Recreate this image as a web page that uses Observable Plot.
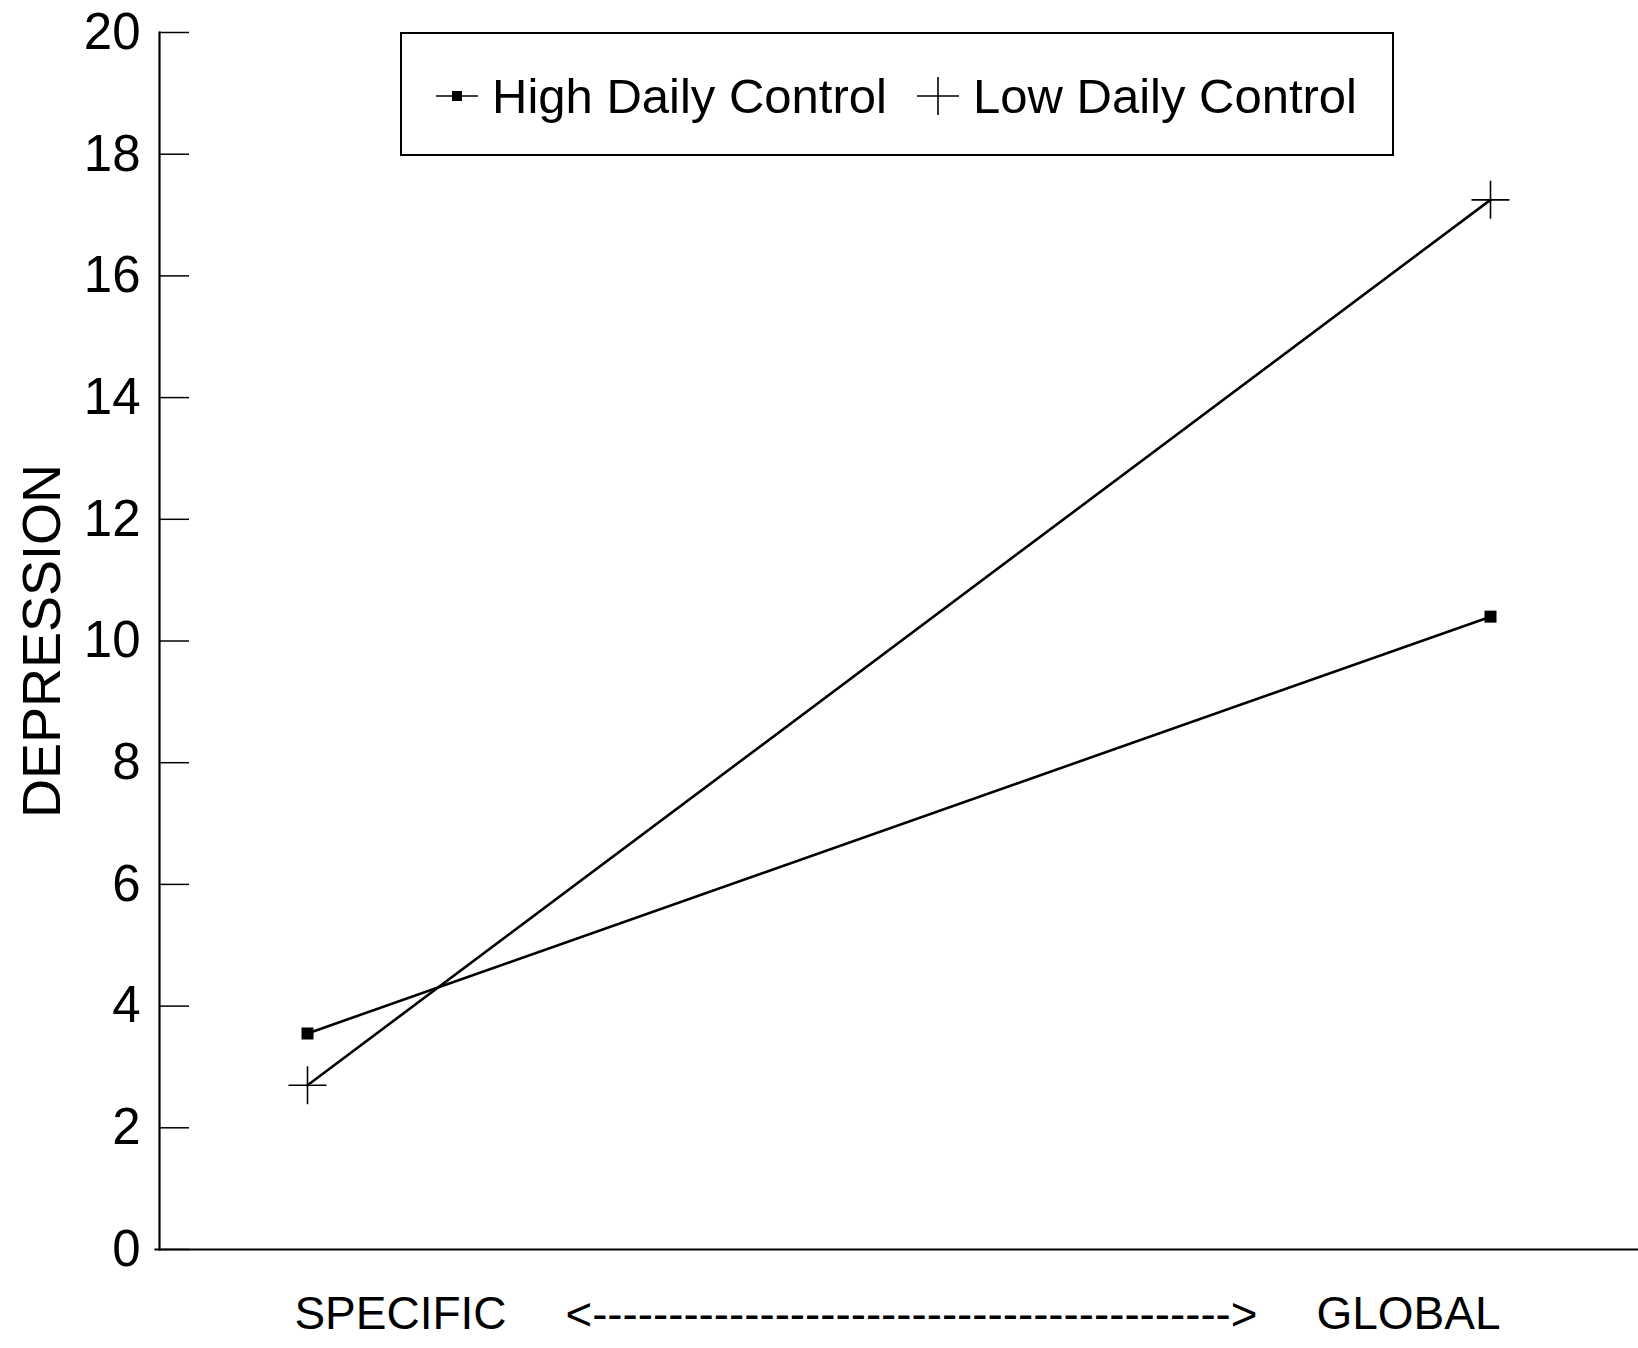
<!DOCTYPE html>
<html>
<head>
<meta charset="utf-8">
<script src="https://cdn.jsdelivr.net/npm/d3@7"></script>
<script src="https://cdn.jsdelivr.net/npm/@observablehq/plot@0.6"></script>
<style>
  html, body { margin: 0; padding: 0; background: #fff; }
  #wrap { position: relative; width: 1638px; height: 1348px; font-family: "Liberation Sans", Arial, Helvetica, sans-serif; }
  #legend { position: absolute; left: 400px; top: 32px; width: 990px; height: 120px; border: 2px solid #000; box-sizing: content-box; }
  .item { position: absolute; top: 2px; height: 120px; display: flex; align-items: center; font-size: 49px; color: #000; white-space: nowrap; }
  .item svg { margin-right: 12px; }
</style>
</head>
<body>
<div id="wrap"></div>
<script>
// ---- data ----
const categories = ["SPECIFIC", "GLOBAL"];
const highDaily = [3.55, 10.4];
const lowDaily = [2.7, 17.25];
const seriesNames = ["High Daily Control", "Low Daily Control"];
const yTicks = [0, 2, 4, 6, 8, 10, 12, 14, 16, 18, 20];
const yLabel = "DEPRESSION";
const captionWords = ["SPECIFIC", "<" + "-".repeat(42) + ">", "GLOBAL"];

const rows = [];
categories.forEach((c, i) => {
  rows.push({cat: c, value: highDaily[i], series: seriesNames[0]});
  rows.push({cat: c, value: lowDaily[i], series: seriesNames[1]});
});

const squareSymbol = {draw(ctx, size) { const s = Math.sqrt(size / Math.PI); ctx.rect(-s, -s, 2 * s, 2 * s); }};
const crossSymbol = {draw(ctx, size) { const r = Math.sqrt(size / Math.PI); ctx.moveTo(-r, 0); ctx.lineTo(r, 0); ctx.moveTo(0, -r); ctx.lineTo(0, r); }};

const W = 1638, H = 1348, mL = 159, mT = 32, mB = 99;
const font = "'Liberation Sans', Arial, Helvetica, sans-serif";

const plot = Plot.plot({
  width: W,
  height: H,
  marginLeft: mL,
  marginRight: 0,
  marginTop: mT,
  marginBottom: mB,
  style: {fontFamily: font, background: "#fff", color: "#000"},
  x: {type: "point", domain: categories, padding: 0.125, axis: null},
  y: {domain: [0, 20], ticks: yTicks, label: null},
  marks: [
    Plot.axisY(yTicks, {tickSize: 0, tickPadding: 19, tickFormat: d3.format("d"), fontSize: 51, fill: "#000", label: null}),
    Plot.tickY(yTicks, {y: d => d, stroke: "#000", strokeWidth: 1.5, insetRight: W - mL - 30}),
    Plot.frame({anchor: "left", stroke: "#000", strokeWidth: 2.2}),
    Plot.frame({anchor: "bottom", stroke: "#000", strokeWidth: 2.2, insetLeft: -4}),
    Plot.line(rows, {x: "cat", y: "value", z: "series", stroke: "#000", strokeWidth: 2.6}),
    Plot.dot(rows.filter(d => d.series === seriesNames[0]), {x: "cat", y: "value", symbol: squareSymbol, r: 6, fill: "#000", stroke: "none"}),
    Plot.dot(rows.filter(d => d.series === seriesNames[1]), {x: "cat", y: "value", symbol: crossSymbol, r: 19, fill: "none", stroke: "#000", strokeWidth: 1.6}),
    Plot.text([yLabel], {text: d => d, frameAnchor: "left", textAnchor: "middle", rotate: -90, dx: -117, fontSize: 54, fill: "#000"}),
    Plot.text([captionWords[0]], {text: d => d, frameAnchor: "bottom-left", dx: 241, dy: 79, textAnchor: "middle", fontSize: 46, fill: "#000"}),
    Plot.text([captionWords[1]], {text: d => d, frameAnchor: "bottom-left", dx: 752, dy: 80, textAnchor: "middle", fontSize: 46, fill: "#000"}),
    Plot.text([captionWords[2]], {text: d => d, frameAnchor: "bottom-left", dx: 1249, dy: 79, textAnchor: "middle", fontSize: 46, fill: "#000"})
  ]
});

// fit the dashed arrow to its span
d3.select(plot).selectAll("text").filter(function() { return this.textContent.startsWith("<"); })
  .attr("textLength", 692).attr("lengthAdjust", "spacingAndGlyphs");

const wrap = document.getElementById("wrap");
wrap.appendChild(plot);

// legend (inside the plot frame, top)
const legend = document.createElement("div");
legend.id = "legend";
legend.innerHTML = `
  <div class="item" style="left:32px">
    <svg width="46" height="20" viewBox="0 0 46 20"><line x1="2" y1="10" x2="44" y2="10" stroke="#000" stroke-width="1.6"/><rect x="18" y="5" width="10" height="10" fill="#000"/></svg>
    <span>${seriesNames[0]}</span>
  </div>
  <div class="item" style="left:513px">
    <svg width="46" height="40" viewBox="0 0 46 40"><line x1="2" y1="20" x2="44" y2="20" stroke="#000" stroke-width="1.6"/><line x1="23" y1="1" x2="23" y2="39" stroke="#000" stroke-width="1.6"/></svg>
    <span>${seriesNames[1]}</span>
  </div>`;
wrap.appendChild(legend);
</script>
</body>
</html>
